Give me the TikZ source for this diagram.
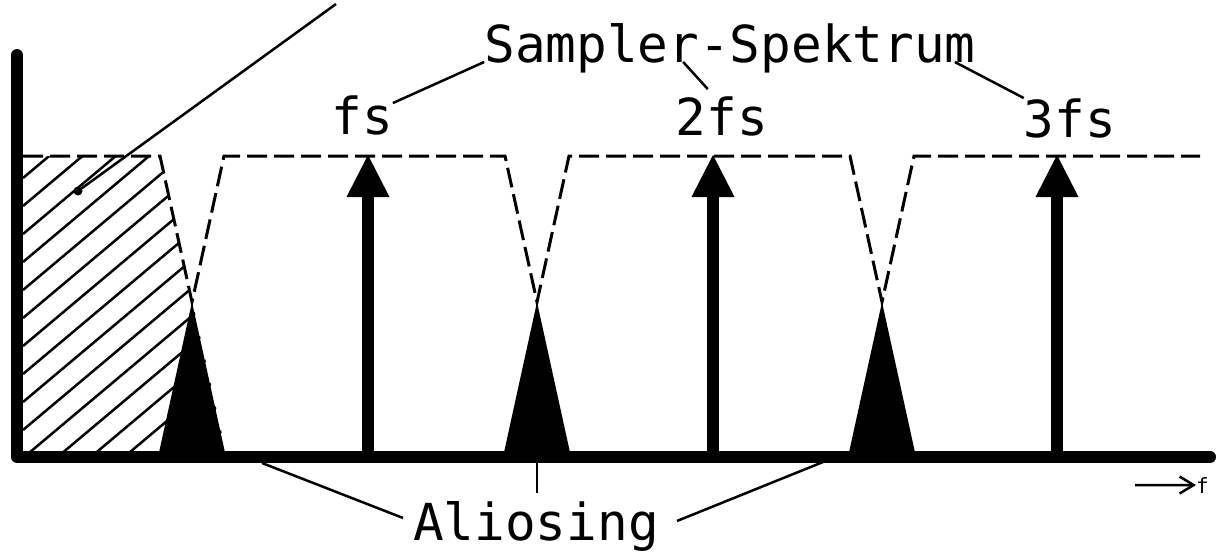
\documentclass[tikz,border=0pt]{standalone}
\usepackage{fontspec}
\setmonofont{DejaVu Sans Mono}
\usetikzlibrary{arrows.meta,calc}
\definecolor{ink}{HTML}{000000}
\tikzset{
  axisline/.style={draw=ink,line width=12pt,line cap=round,line join=round},
  spectrum/.style={draw=ink,line width=3pt,dash pattern=on 20pt off 7pt},
  aliasfill/.style={fill=ink},
  impulse/.style={draw=ink,line width=12pt},
  impulsehead/.style={fill=ink},
  leader/.style={draw=ink,line width=2.5pt},
  hatchline/.style={draw=ink,line width=2.5pt},
  faxisarr/.style={-{Straight Barb[length=14pt,width=17pt]},line width=2.5pt,
                   draw=ink},
  lbl/.style={font=\ttfamily\fontsize{51pt}{51pt}\selectfont,inner sep=0pt,
              text=ink},
  smalllbl/.style={font=\ttfamily\fontsize{21pt}{21pt}\selectfont,
                   inner sep=0pt,text=ink},
  dotmark/.style={circle,fill=ink,inner sep=0pt,minimum size=9pt}
}

\begin{document}
\begin{tikzpicture}[x=1pt,y=-1pt]
    \path[use as bounding box] (0,0) rectangle (1220,554);

    % baseband, hatched
    \begin{scope}
      \clip (23,156) -- (160,156) -- (226,452) -- (23,452) -- cycle;
      \foreach \k in {0,...,20}
        \draw[hatchline] (23,150+28*\k) -- ++(420,-353);
    \end{scope}

    % overlap of neighbouring spectra
    \foreach \c in {192,537,882}
      \fill[aliasfill] (\c,302) -- (\c-34,457) -- (\c+34,457) -- cycle;

    \draw[spectrum] (23,156) -- (160,156) -- (192,302) -- (224,156)
      -- (505,156) -- (537,302) -- (569,156)
      -- (850,156) -- (882,302) -- (914,156) -- (1200,156);

    \draw[axisline] (17,55) -- (17,457) -- (1210,457);

    \foreach \xx in {368,713,1057}{
      \draw[impulse] (\xx,457) -- (\xx,196);
      \fill[impulsehead] (\xx,155) -- (\xx-21.5,197) -- (\xx+21.5,197) -- cycle;
    }

    \node[lbl,anchor=base] (spektrum) at (730,62) {Sampler-Spektrum};
    \node[lbl,anchor=base] (fs1) at (362,134) {fs};
    \node[lbl,anchor=base] (fs2) at (722,135) {2fs};
    \node[lbl,anchor=base] (fs3) at (1070,137) {3fs};
    \node[lbl,anchor=base] (aliasing) at (536,540) {Aliosing};
    \node[smalllbl,anchor=base west] (faxis) at (1196,493) {f};

    \node[dotmark] (dot) at (78,191) {};
    \coordinate (toplead) at (336,4);
    \draw[leader] (dot.center) -- (toplead);

    \draw[leader] ($(fs1.north east)+(0,8)$) -- (spektrum.base west);
    \draw[leader] ($(spektrum.base west)+(199,0)$) -- ($(fs2.north west)+(32,-7)$);
    \draw[leader] ($(spektrum.base east)+(-21,0)$) -- (fs3.north west);

    \coordinate (alias1) at (262,463);
    \coordinate (alias2) at (537,463);
    \coordinate (alias3) at (823,462);
    \draw[leader] (alias1) -- ($(aliasing.west)+(-10,-8)$);
    \draw[leader] (alias2) -- ($(aliasing.north)+(1,-8)$);
    \draw[leader] (alias3) -- ($(aliasing.east)+(18,-5)$);

    \coordinate (farrow) at (1135,485);
    \draw[faxisarr] (farrow) -- (faxis.west);
  \end{tikzpicture}
\end{document}
